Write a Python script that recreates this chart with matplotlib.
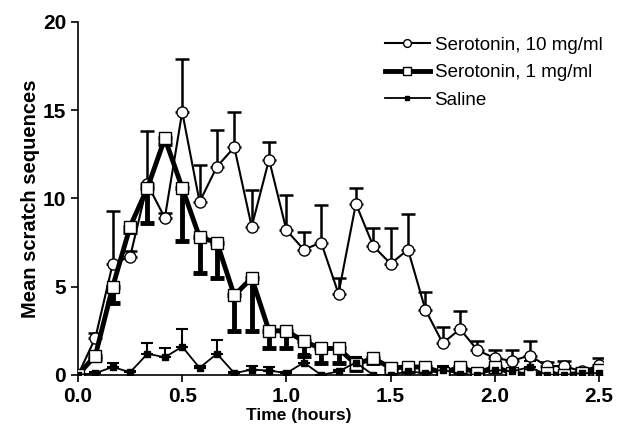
import matplotlib
matplotlib.use('Agg')
import matplotlib.pyplot as plt
import numpy as np

plt.rcParams['font.family'] = ['Liberation Sans', 'DejaVu Sans']

# time points every 5 minutes, in hours
t = np.arange(31) / 12.0

sero10 = [0, 2.1, 6.3, 6.7, 10.8, 8.9, 14.9, 9.8, 11.8, 12.9, 8.4, 12.2, 8.2, 7.1, 7.5, 4.6,
          9.7, 7.3, 6.3, 7.1, 3.7, 1.8, 2.6, 1.4, 0.95, 0.8, 1.1, 0.5, 0.5, 0.2, 0.55]
sero10_err = [0, 0.3, 3.0, 0.3, 3.0, 0.3, 3.0, 2.1, 2.1, 2.0, 2.1, 1.0, 2.0, 1.0, 2.1, 0.9,
              0.9, 1.0, 2.0, 2.0, 1.0, 0.9, 1.0, 0.5, 0.45, 0.6, 0.8, 0.25, 0.3, 0.2, 0.4]

sero1 = [0, 1.1, 5.0, 8.4, 10.6, 13.4, 10.6, 7.8, 7.5, 4.5, 5.5, 2.5, 2.5, 1.9, 1.5, 1.5,
         0.6, 0.95, 0.4, 0.45, 0.45, 0.1, 0.45, 0.1, 0.45, 0.1, 0.0, 0.1, 0.0, 0.1, 0.3]
sero1_err = [0, 0.2, 0.9, 0.3, 2.0, 0.3, 3.0, 2.0, 2.0, 2.0, 3.0, 1.0, 1.0, 0.8, 0.8, 0.8,
             0.3, 0.3, 0.2, 0.2, 0.2, 0.05, 0.2, 0.05, 0.2, 0.05, 0, 0.05, 0, 0.05, 0.1]

saline = [0, 0.1, 0.45, 0.15, 1.2, 1.0, 1.6, 0.4, 1.2, 0.1, 0.3, 0.25, 0.1, 0.7, 0.0, 0.2,
          0.7, 0.0, 0.0, 0.2, 0.1, 0.3, 0.05, 0.0, 0.3, 0.2, 0.45, 0.0, 0.0, 0.1, 0.1]
saline_err = [0, 0.05, 0.2, 0.05, 0.6, 0.5, 1.0, 0.1, 0.8, 0.05, 0.2, 0.2, 0.05, 0.5, 0, 0.1,
              0.3, 0, 0, 0.1, 0.1, 0.2, 0.05, 0, 0.2, 0.1, 0.35, 0, 0, 0.05, 0.05]

fig = plt.figure(figsize=(6.29, 4.38), dpi=100)
ax = fig.add_axes([0.124, 0.144, 0.835, 0.806])

# error bars: 10 mg and saline upward, 1 mg downward
ax.errorbar(t, sero10, yerr=[np.zeros(31), sero10_err], fmt='none', ecolor='black',
            elinewidth=1.8, capsize=5, capthick=1.8, zorder=2)
ax.errorbar(t, sero1, yerr=[sero1_err, np.zeros(31)], fmt='none', ecolor='black',
            elinewidth=3.5, capsize=5, capthick=3.5, zorder=2)
ax.errorbar(t, saline, yerr=[np.zeros(31), saline_err], fmt='none', ecolor='black',
            elinewidth=1.5, capsize=4, capthick=1.5, zorder=2)

ax.plot(t, sero10, '-o', color='black', lw=1.5, ms=8, mfc='white', mec='black', mew=1.0,
        label='Serotonin, 10 mg/ml', zorder=3)
ax.plot(t, sero1, '-s', color='black', lw=3.5, ms=8, mfc='white', mec='black', mew=1.0,
        label='Serotonin, 1 mg/ml', zorder=4)
ax.plot(t, saline, '-s', color='black', lw=1.3, ms=5, mfc='black', mec='black',
        label='Saline', zorder=5)

ax.set_xlim(0, 2.52)
ax.set_ylim(0, 20)
ax.set_xticks([0.0, 0.5, 1.0, 1.5, 2.0, 2.5])
ax.set_xticklabels(['0.0', '0.5', '1.0', '1.5', '2.0', '2.5'])
ax.set_yticks([0, 5, 10, 15, 20])
for s in ['top', 'right']:
    ax.spines[s].set_visible(False)
ax.spines['left'].set_linewidth(1.2)
ax.spines['bottom'].set_linewidth(1.2)
ax.tick_params(direction='out', length=5, width=1.2, labelsize=15)
for lab in ax.get_xticklabels() + ax.get_yticklabels():
    lab.set_fontweight('bold')

ax.set_xlabel('Time (hours)', fontsize=12.5, fontweight='bold')
ax.xaxis.set_label_coords(0.42, -0.095)
ax.set_ylabel('Mean scratch sequences', fontsize=14.5, fontweight='bold')
ax.yaxis.set_label_coords(-0.072, 0.5)

fig.legend(loc='upper left', bbox_to_anchor=(0.585, 0.955), frameon=False, fontsize=13.5,
           handlelength=2.4, markerscale=0.7, labelspacing=0.55, handletextpad=0.25)

fig.savefig('out.png', dpi=100)
